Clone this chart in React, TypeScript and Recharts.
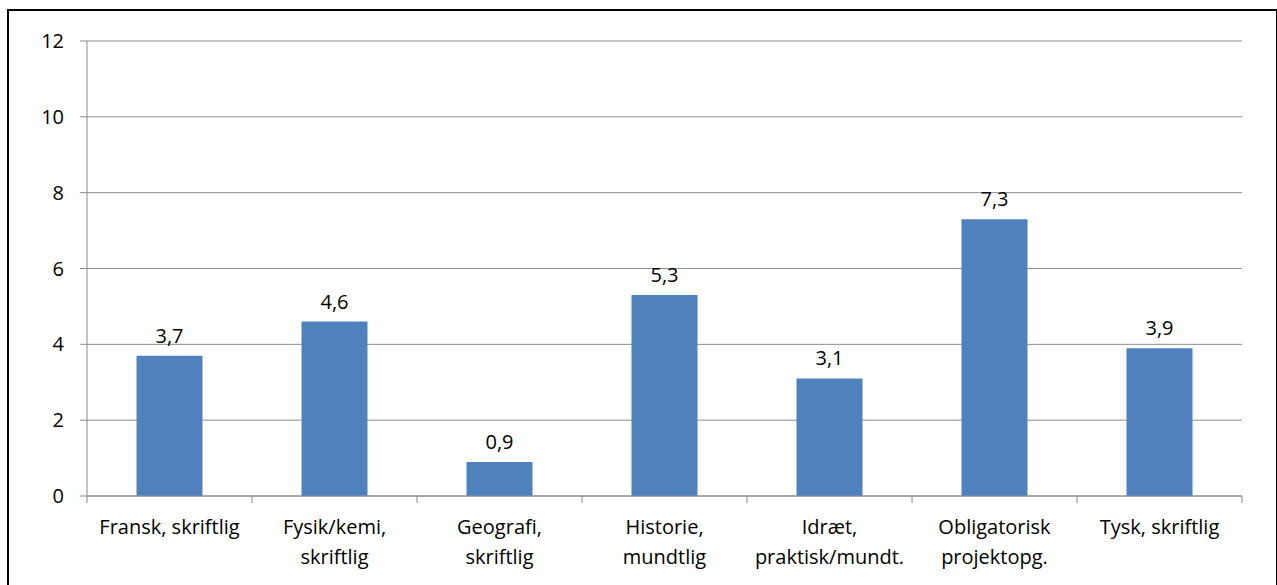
import React from 'react';
import { BarChart, Bar, XAxis, YAxis, CartesianGrid, LabelList } from 'recharts';

const categories = [
    'Fransk, skriftlig',
    'Fysik/kemi,\nskriftlig',
    'Geografi,\nskriftlig',
    'Historie,\nmundtlig',
    'Idræt,\npraktisk/mundt.',
    'Obligatorisk\nprojektopg.',
    'Tysk, skriftlig',
];
const values = [3.7, 4.6, 0.9, 5.3, 3.1, 7.3, 3.9];
const yTicks = [0, 2, 4, 6, 8, 10, 12];

const data = categories.map((name, i) => ({ name, value: values[i] }));

const FONT = '"Open Sans", Lato, sans-serif';
const FONT_SIZE = 20;
const AXIS_GRAY = '#8c8c8c';

// category labels with tick marks at the band edges
const CategoryTick = (props: any) => {
    const { x, y, payload, index } = props;
    const half = payload.offset || 0;
    const lines = String(payload.value).split('\n');
    const isLast = index === categories.length - 1;
    return (
        <g>
            <line x1={x - half} x2={x - half} y1={y} y2={y + 7} stroke={AXIS_GRAY} />
            {isLast && <line x1={x + half} x2={x + half} y1={y} y2={y + 7} stroke={AXIS_GRAY} />}
            {lines.map((l, i) => (
                <text
                    key={i}
                    x={x}
                    y={y + 38 + i * 30}
                    textAnchor="middle"
                    fontSize={FONT_SIZE}
                    fontFamily={FONT}
                    fill="#000"
                >
                    {l}
                </text>
            ))}
        </g>
    );
};

export default function App() {
    return (
        <div style={{ position: 'fixed', left: 0, top: 0, width: 1277, height: 585, background: '#fff', overflow: 'hidden' }}>
            <BarChart
                width={1277}
                height={585}
                data={data}
                margin={{ top: 41, right: 35, left: 0, bottom: 0 }}
                barCategoryGap="30%"
            >
                <CartesianGrid vertical={false} stroke={AXIS_GRAY} />
                <XAxis
                    dataKey="name"
                    interval={0}
                    height={89}
                    tickLine={false}
                    tickSize={0}
                    tickMargin={0}
                    axisLine={{ stroke: AXIS_GRAY }}
                    tick={<CategoryTick />}
                />
                <YAxis
                    width={87}
                    domain={[0, 12]}
                    ticks={yTicks}
                    interval={0}
                    tickSize={7}
                    tickMargin={16}
                    axisLine={{ stroke: AXIS_GRAY }}
                    tickLine={{ stroke: AXIS_GRAY }}
                    tick={{ fill: '#000', fontSize: FONT_SIZE, fontFamily: FONT }}
                />
                <Bar dataKey="value" fill="#4f81bd" isAnimationActive={false}>
                    <LabelList
                        dataKey="value"
                        position="top"
                        offset={13}
                        formatter={(v: any) => String(v).replace('.', ',')}
                        style={{ fill: '#000', fontSize: FONT_SIZE, fontFamily: FONT }}
                    />
                </Bar>
            </BarChart>
            <div
                style={{
                    position: 'absolute',
                    left: 7,
                    top: 9,
                    width: 1267,
                    height: 620,
                    border: '2px solid #000',
                    pointerEvents: 'none',
                }}
            />
        </div>
    );
}
